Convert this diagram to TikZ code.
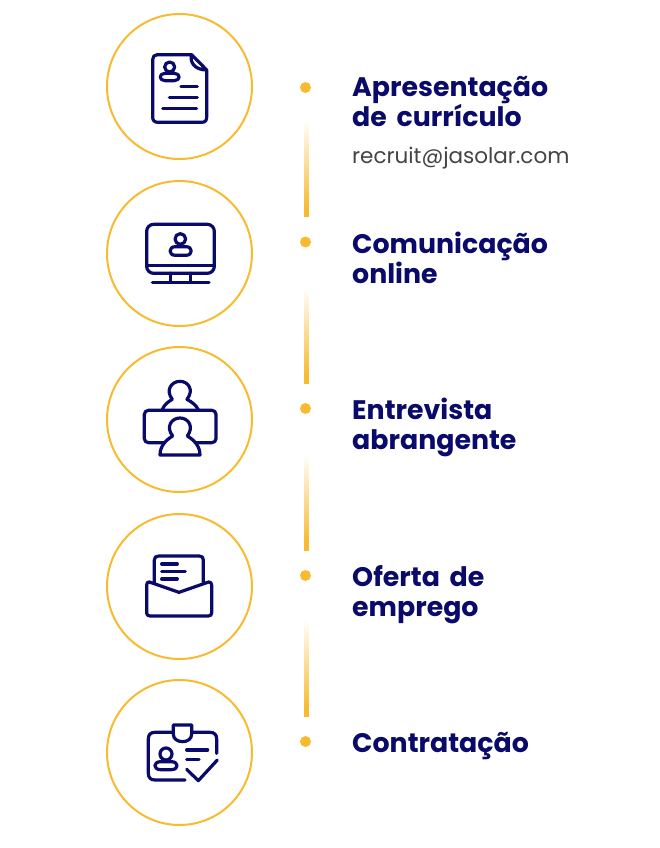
\documentclass[tikz,border=0pt]{standalone}
\usepackage{fontspec}
\setmainfont{Poppins}[WordSpace=1.7]
\definecolor{ringc}{HTML}{F8BB30}
\definecolor{navyc}{HTML}{0A0A6B}
\definecolor{grayc}{HTML}{444444}
\newcommand{\gradbar}[1]{\foreach \i in {0,...,96}{\pgfmathsetmacro{\pct}{min(100,\i*1.15)}\fill[ringc!\pct!white] (303.5,#1+\i) rectangle (308.5,#1+\i+1.3);}}
\tikzset{
  ring/.style={draw=ringc,line width=2pt,circle,minimum size=145pt,inner sep=0pt},
  dotn/.style={fill=ringc,circle,minimum size=11pt,inner sep=0pt},
  ttl/.style={anchor=base west,inner sep=0pt,text=navyc,align=left,font=\fontsize{26.8}{30}\selectfont\bfseries},
  sub/.style={anchor=base west,inner sep=0pt,text=grayc,font=\fontsize{21.5}{24}\selectfont},
  ico/.style={draw=navyc,line width=3.2pt,line cap=round,line join=round},
}
\begin{document}
\begin{tikzpicture}[x=1pt,y=-1pt]
\useasboundingbox (0,0) rectangle (660,848);
\fill[white] (0,0) rectangle (660,848);
% rings
\node[ring] (r1) at (179.5,86.5) {};
\node[ring] (r2) at (179.5,253.5) {};
\node[ring] (r3) at (179.5,419.5) {};
\node[ring] (r4) at (179.5,586.5) {};
\node[ring] (r5) at (179.5,752.5) {};
% dots
\node[dotn] (d1) at (305.5,87.5) {};
\node[dotn] (d2) at (305.5,242) {};
\node[dotn] (d3) at (305.5,408.5) {};
\node[dotn] (d4) at (305.5,575.5) {};
\node[dotn] (d5) at (305.5,741.5) {};
% gradient bars
\gradbar{120}
\gradbar{287}
\gradbar{454}
\gradbar{620}
% texts
\node[ttl] (t1) at (352,126.7) {Apresentação\\de currículo};
\node[sub] (s1) at (352,163) {recruit@jasolar.com};
\node[ttl] (t2) at (352,283.3) {Comunicação\\online};
\node[ttl] (t3) at (352,449.3) {Entrevista\\abrangente};
\node[ttl] (t4) at (352,616.3) {Oferta de\\emprego};
\node[ttl] (t5) at (352,752.3) {Contratação};
% icon 1
\begin{scope}[shift={(100,5)},x=0.3333pt,y=-0.3333pt,ico]
\draw (275,149) -- (172,149) .. controls (163,149) and (158,155) .. (158,164) -- (158,337) .. controls (158,347) and (164,352) .. (174,352) -- (305,352) .. controls (315,352) and (320,347) .. (320,337) -- (320,195) -- (275,149) .. controls (268,172) and (285,195) .. (320,195);
\draw (209,186) circle (15);
\draw (195,205) -- (223,205) .. controls (242,205) and (242,227) .. (223,227) -- (195,227) .. controls (176,227) and (176,205) .. (195,205) -- cycle;
\draw (243,245) -- (292,245);
\draw (208,278) -- (292,278);
\draw (188,310) -- (290,310);
\end{scope}
% icon 2
\begin{scope}[shift={(100,175)},x=0.3333pt,y=-0.3333pt,ico]
\draw[rounded corners=7pt] (140,148) rectangle (343,295);
\draw (140,272) -- (343,272);
\draw (212,295) -- (212,322);
\draw (272,295) -- (272,322);
\draw (157,322) -- (327,322);
\draw (241,192) circle (16);
\draw (226,215) -- (258,215) .. controls (279,215) and (279,241) .. (258,241) -- (226,241) .. controls (205,241) and (205,215) .. (226,215) -- cycle;
\end{scope}
% icon 3
\begin{scope}[shift={(100,340)},x=0.3333pt,y=-0.3333pt,ico]
\draw (187,209) .. controls (192,195) and (203,186) .. (217,178) .. controls (195,150) and (215,124) .. (240,124) .. controls (265,124) and (283,150) .. (261,178) .. controls (275,186) and (288,195) .. (295,209);
\draw[rounded corners=4pt] (133,211) rectangle (348,308);
\draw[fill=white] (180,345) .. controls (180,318) and (198,300) .. (218,288) .. controls (196,260) and (215,234) .. (240,234) .. controls (265,234) and (283,260) .. (262,288) .. controls (282,300) and (300,318) .. (300,345) -- cycle;
\end{scope}
% icon 4
\begin{scope}[shift={(100,505)},x=0.3333pt,y=-0.3333pt,ico]
\draw (163,235) -- (163,165) .. controls (163,157) and (168,153) .. (176,153) -- (298,153) .. controls (306,153) and (310,157) .. (310,165) -- (310,232);
\draw (148,231) -- (237,262) -- (326,231) .. controls (331,230) and (335,234) .. (335,240) -- (335,324) .. controls (335,330) and (331,333) .. (325,333) -- (150,333) .. controls (144,333) and (140,330) .. (140,324) -- (140,240) .. controls (140,234) and (143,230) .. (148,231) -- cycle;
\draw (185,177) -- (232,177);
\draw (185,199) -- (256,199);
\draw (185,222) -- (232,222);
\end{scope}
% icon 5
\begin{scope}[shift={(100,675)},x=0.3333pt,y=-0.3333pt,ico]
\draw (220,172) -- (165,172) .. controls (152,172) and (145,179) .. (145,192) -- (145,295) .. controls (145,308) and (152,315) .. (165,315) -- (255,315);
\draw (275,172) -- (330,172) .. controls (343,172) and (350,179) .. (350,192) -- (350,235);
\draw (220,150) -- (275,150) -- (275,178) .. controls (275,192) and (262,200) .. (248,200) .. controls (233,200) and (220,192) .. (220,178) -- cycle;
\draw (198,237) circle (18);
\draw (182,260) -- (214,260) .. controls (237,260) and (237,284) .. (214,284) -- (182,284) .. controls (159,284) and (159,260) .. (182,260) -- cycle;
\draw (260,225) -- (323,225);
\draw (260,253) -- (297,253);
\draw (260,283) -- (295,317) -- (352,255);
\end{scope}
\end{tikzpicture}
\end{document}
